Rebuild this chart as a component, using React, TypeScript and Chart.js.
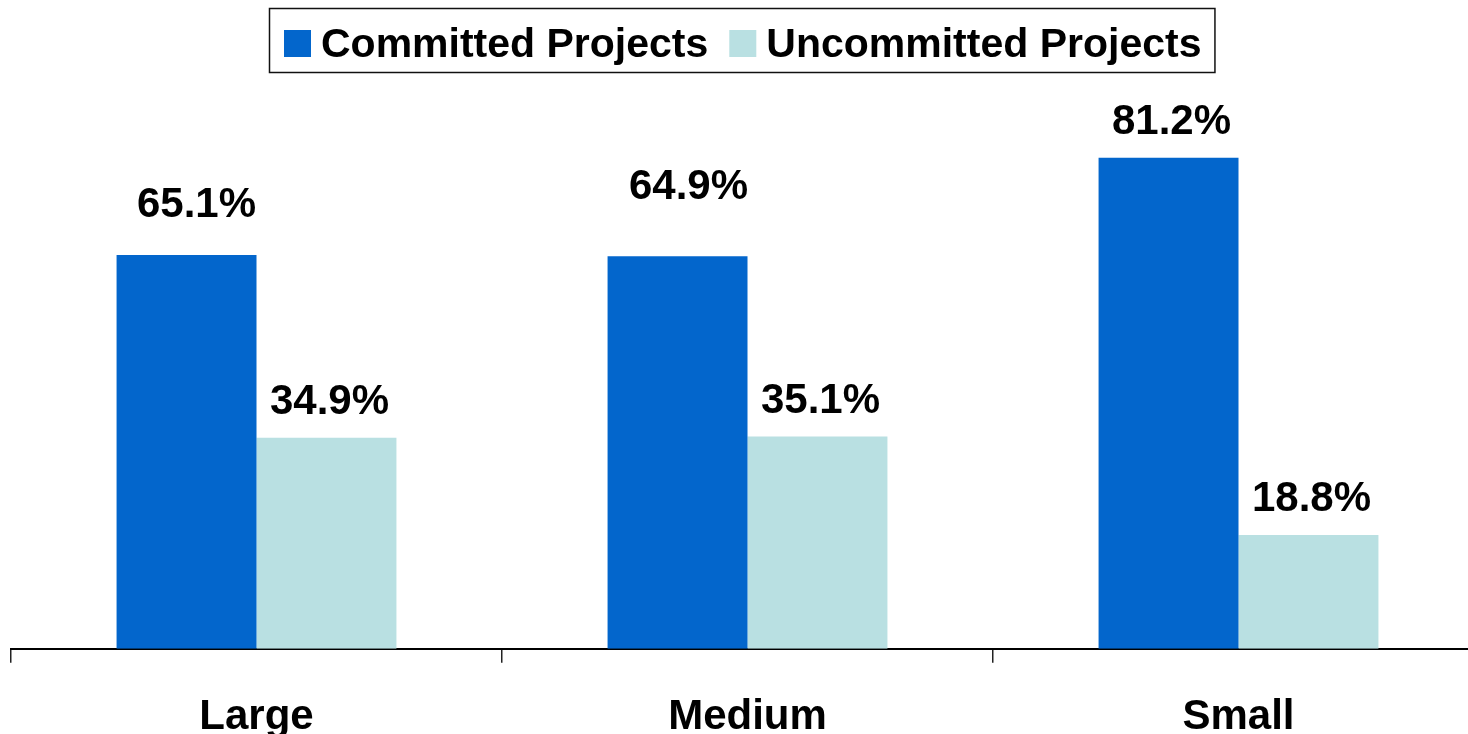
import React, { useEffect, useRef } from "react";
import { Chart, registerables } from "chart.js";

Chart.register(...registerables);

// ---- data ----
const categories = ["Large", "Medium", "Small"];
const committed = [65.1, 64.9, 81.2];
const uncommitted = [34.9, 35.1, 18.8];
const seriesNames = ["Committed Projects", "Uncommitted Projects"];
const seriesColors = ["#0366CC", "#B9E0E2"];

// ---- styling ----
const FONT_FAMILY = '"Liberation Sans", Arial, Helvetica, sans-serif';
const LABEL_FONT = `bold 42px ${FONT_FAMILY}`;
const LEGEND_FONT = `bold 41px ${FONT_FAMILY}`;
const LABEL_GAP = 24;
const LABEL_EXTRA_LIFT = [
  [14, 33, 0],
  [0, 0, 0],
];
const LABEL_EXTRA_SHIFT = [
  [7, 8, 0],
  [0, 0, 0],
];

const valueLabelsPlugin = {
  id: "valueLabels",
  afterDatasetsDraw(chart: any) {
    const ctx = chart.ctx;
    ctx.save();
    ctx.font = LABEL_FONT;
    ctx.fillStyle = "#000";
    ctx.textAlign = "center";
    ctx.textBaseline = "alphabetic";
    chart.data.datasets.forEach((ds: any, i: number) => {
      const meta = chart.getDatasetMeta(i);
      meta.data.forEach((bar: any, j: number) => {
        const v = ds.data[j] as number;
        const lift = (LABEL_EXTRA_LIFT[i] && LABEL_EXTRA_LIFT[i][j]) || 0;
        const shift = (LABEL_EXTRA_SHIFT[i] && LABEL_EXTRA_SHIFT[i][j]) || 0;
        ctx.fillText(v.toFixed(1) + "%", bar.x + 3 + shift, bar.y - LABEL_GAP - lift);
      });
    });
    ctx.restore();
  },
};

const boxedLegendPlugin = {
  id: "boxedLegend",
  afterDraw(chart: any) {
    const ctx = chart.ctx;
    ctx.save();
    ctx.font = LEGEND_FONT;
    const sq = 27;
    const gapText = 10;
    const gapItem = 21;
    const padL = 15;
    const padR = 13;
    const items = chart.data.datasets.map((ds: any) => ({
      label: ds.label as string,
      color: ds.backgroundColor as string,
      w: ctx.measureText(ds.label).width,
    }));
    let total = padL + padR;
    items.forEach((it: any, k: number) => {
      total += sq + gapText + it.w + (k > 0 ? gapItem : 0);
    });
    const centerX = 741.5;
    const left = Math.round(centerX - total / 2);
    const top = 8;
    const bottom = 72;
    ctx.lineWidth = 1.5;
    ctx.strokeStyle = "#111";
    ctx.strokeRect(left + 0.5, top + 0.5, total, bottom - top);
    let x = left + padL;
    ctx.textAlign = "left";
    ctx.textBaseline = "alphabetic";
    items.forEach((it: any, k: number) => {
      if (k > 0) x += gapItem;
      ctx.fillStyle = it.color;
      ctx.fillRect(x, 30, sq, sq);
      x += sq + gapText;
      ctx.fillStyle = "#000";
      ctx.fillText(it.label, x, 57);
      x += it.w;
    });
    ctx.restore();
  },
};

export default function App() {
  const canvasRef = useRef<HTMLCanvasElement | null>(null);

  useEffect(() => {
    if (!canvasRef.current) return;
    const chart = new Chart(canvasRef.current, {
      type: "bar",
      data: {
        labels: categories,
        datasets: [
          {
            label: seriesNames[0],
            data: committed,
            backgroundColor: seriesColors[0],
            borderWidth: 0,
            categoryPercentage: 0.57,
            barPercentage: 1.0,
          },
          {
            label: seriesNames[1],
            data: uncommitted,
            backgroundColor: seriesColors[1],
            borderWidth: 0,
            categoryPercentage: 0.57,
            barPercentage: 1.0,
          },
        ],
      },
      options: {
        responsive: false,
        animation: false,
        devicePixelRatio: 1,
        layout: { padding: { top: 44, left: 11, right: 6, bottom: 0 } },
        plugins: {
          legend: { display: false },
          tooltip: { enabled: false },
        },
        scales: {
          x: {
            offset: true,
            grid: {
              display: true,
              offset: true,
              drawOnChartArea: false,
              drawTicks: true,
              tickLength: 14,
              color: "#222",
              lineWidth: 1.5,
            },
            border: { display: true, color: "#000", width: 2 },
            ticks: {
              color: "#000",
              padding: 32,
              font: { family: FONT_FAMILY, size: 42, weight: "bold", lineHeight: 1.1 },
            },
          },
          y: {
            display: false,
            min: 0,
            max: 100,
          },
        },
      },
      plugins: [valueLabelsPlugin, boxedLegendPlugin],
    } as any);
    return () => chart.destroy();
  }, []);

  return (
    <div
      style={{
        position: "fixed",
        left: 0,
        top: 0,
        width: 1468,
        height: 734,
        overflow: "hidden",
        background: "#fff",
      }}
    >
      <canvas ref={canvasRef} width={1490} height={773} style={{ display: "block" }} />
    </div>
  );
}
